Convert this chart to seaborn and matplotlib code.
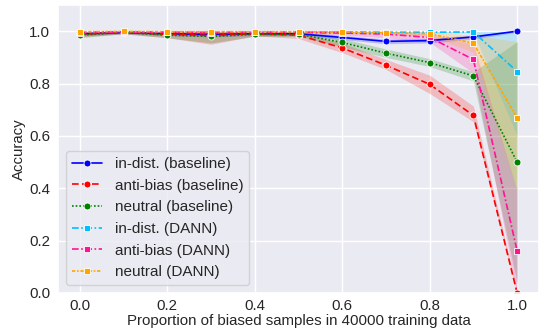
import numpy as np
import pandas as pd
import matplotlib
matplotlib.use("Agg")
import matplotlib.pyplot as plt
import seaborn as sns

x = [0.0, 0.1, 0.2, 0.3, 0.4, 0.5, 0.6, 0.7, 0.8, 0.9, 1.0]

labels = ["in-dist. (baseline)", "anti-bias (baseline)", "neutral (baseline)",
          "in-dist. (DANN)", "anti-bias (DANN)", "neutral (DANN)"]

indist_base = [0.990, 0.995, 0.990, 0.988, 0.990, 0.990, 0.976, 0.961, 0.964, 0.978, 1.000]
anti_base = [0.988, 0.995, 0.988, 0.984, 0.990, 0.985, 0.936, 0.870, 0.797, 0.678, 0.000]
neutral_base = [0.985, 0.995, 0.985, 0.980, 0.988, 0.988, 0.957, 0.916, 0.880, 0.829, 0.500]
indist_dann = [0.996, 0.998, 0.997, 0.996, 0.997, 0.997, 0.997, 0.996, 0.996, 0.997, 0.846]
anti_dann = [0.994, 0.997, 0.995, 0.994, 0.995, 0.995, 0.993, 0.989, 0.976, 0.892, 0.161]
neutral_dann = [0.998, 0.999, 0.998, 0.998, 0.998, 0.998, 0.997, 0.994, 0.990, 0.954, 0.669]

indist_base_lo = [0.983, 0.990, 0.983, 0.978, 0.983, 0.983, 0.968, 0.952, 0.955, 0.970, 0.996]
indist_base_hi = [0.996, 0.999, 0.996, 0.996, 0.996, 0.996, 0.984, 0.970, 0.972, 0.986, 1.000]
anti_base_lo = [0.978, 0.990, 0.975, 0.950, 0.982, 0.972, 0.918, 0.854, 0.762, 0.654, 0.000]
anti_base_hi = [0.995, 0.999, 0.996, 0.996, 0.996, 0.994, 0.955, 0.892, 0.832, 0.714, 0.010]
neutral_base_lo = [0.975, 0.990, 0.975, 0.955, 0.980, 0.980, 0.940, 0.900, 0.865, 0.810, 0.040]
neutral_base_hi = [0.993, 0.999, 0.993, 0.995, 0.995, 0.995, 0.972, 0.932, 0.895, 0.845, 0.960]
indist_dann_lo = [0.993, 0.996, 0.994, 0.993, 0.994, 0.994, 0.994, 0.993, 0.993, 0.993, 0.600]
indist_dann_hi = [0.999, 1.000, 0.999, 0.999, 0.999, 0.999, 0.999, 0.999, 0.999, 0.999, 1.000]
anti_dann_lo = [0.988, 0.993, 0.990, 0.985, 0.990, 0.990, 0.985, 0.975, 0.958, 0.840, 0.000]
anti_dann_hi = [0.999, 1.000, 0.999, 0.999, 0.999, 0.999, 0.999, 0.997, 0.990, 0.950, 0.390]
neutral_dann_lo = [0.995, 0.997, 0.995, 0.995, 0.995, 0.995, 0.993, 0.988, 0.982, 0.920, 0.387]
neutral_dann_hi = [1.000, 1.000, 1.000, 1.000, 1.000, 1.000, 1.000, 0.999, 0.998, 0.985, 0.960]

means = [indist_base, anti_base, neutral_base, indist_dann, anti_dann, neutral_dann]
los = [indist_base_lo, anti_base_lo, neutral_base_lo, indist_dann_lo, anti_dann_lo, neutral_dann_lo]
his = [indist_base_hi, anti_base_hi, neutral_base_hi, indist_dann_hi, anti_dann_hi, neutral_dann_hi]

colors = ["blue", "red", "green", "deepskyblue", "deeppink", "orange"]
styles = ["-", (0, (4, 2)), (0, (1, 1.2)), (0, (4, 1.5, 1, 1.5)), (0, (4, 1.5, 1, 1.5)), (0, (2, 1, 1, 1))]
markers = ["o", "o", "o", "s", "s", "s"]

sns.set_theme(style="darkgrid")
plt.rcParams["font.family"] = ["Liberation Sans", "DejaVu Sans"]
plt.rcParams["font.size"] = 10

fig = plt.figure(figsize=(5.39, 3.33), dpi=100)
ax = fig.add_axes([58 / 539, 40 / 333, 1 - 58 / 539, 288 / 333])

for lab, m, lo, hi, c, ls, mk in zip(labels, means, los, his, colors, styles, markers):
    df = pd.DataFrame({"x": x, "y": m})
    sns.lineplot(data=df, x="x", y="y", ax=ax, color=c, linestyle=ls, marker=mk,
                 markersize=5, markeredgecolor="white", markeredgewidth=0.6,
                 linewidth=1.2, label=lab)
    ax.fill_between(x, lo, hi, color=c, alpha=0.2, linewidth=0)

ax.set_xlim(-0.05, 1.05)
ax.set_ylim(0, 1.1)
ax.set_xticks([0.0, 0.2, 0.4, 0.6, 0.8, 1.0])
ax.set_yticks([0.0, 0.2, 0.4, 0.6, 0.8, 1.0])
ax.tick_params(axis="x", labelsize=10.8, length=0, pad=4.5)
ax.tick_params(axis="y", labelsize=10.8, length=0, pad=5.5)
ax.set_xlabel("Proportion of biased samples in 40000 training data", fontsize=10.8, labelpad=0.5)
ax.set_ylabel("Accuracy", fontsize=10.8, labelpad=2.5)
ax.legend(loc="lower left", fontsize=11, borderaxespad=0.5)

fig.savefig("out.png", dpi=100)
